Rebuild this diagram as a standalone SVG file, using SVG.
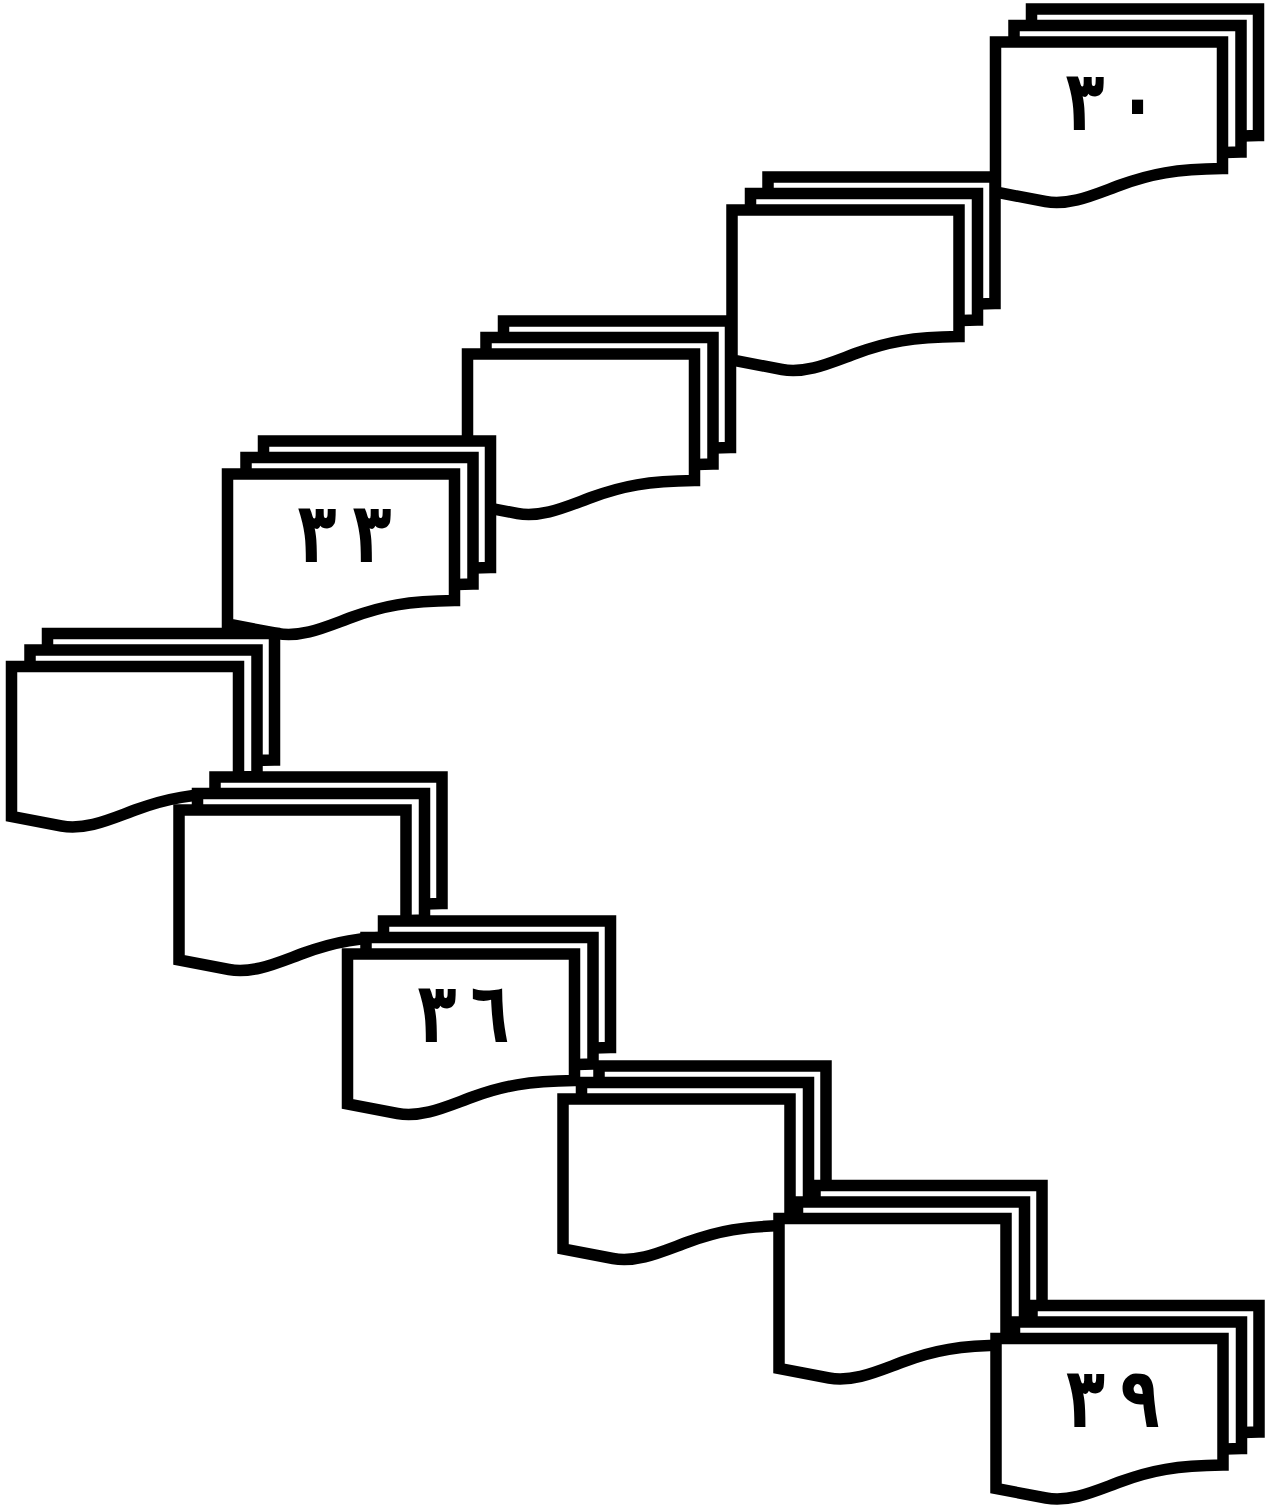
<svg xmlns="http://www.w3.org/2000/svg" xmlns:xlink="http://www.w3.org/1999/xlink" width="1269" height="1508" viewBox="0 0 1269 1508">
<style>
.doc{fill:#fff;stroke:#000;stroke-width:11.5;stroke-linejoin:miter;stroke-miterlimit:10}
.lbl{font-family:"DejaVu Sans",sans-serif;font-weight:bold;font-size:80px;fill:#000;text-anchor:middle}
</style>
<defs>
<path id="page" d="M0,0 H227 V126.5 C180,127 155,132 125,143 C100,152 75,164 50,159.5 L0,150 Z"/>
<g id="multidoc">
<use xlink:href="#page" href="#page" class="doc" transform="translate(36,-33)"/>
<use xlink:href="#page" href="#page" class="doc" transform="translate(18.5,-16.5)"/>
<use xlink:href="#page" href="#page" class="doc"/>
</g>
</defs>
<rect width="1269" height="1508" fill="#fff"/>
<g id="connectors"/>
<g id="node1" transform="translate(995.5,42)"><use xlink:href="#multidoc" href="#multidoc"/><g class="lbl"><text transform="translate(89.5,88) scale(0.8,1.05)">٣</text><text transform="translate(142,88) scale(0.8,1.05)">٠</text></g></g>
<g id="node2" transform="translate(732,210)"><use xlink:href="#multidoc" href="#multidoc"/></g>
<g id="node3" transform="translate(467.5,354)"><use xlink:href="#multidoc" href="#multidoc"/></g>
<g id="node4" transform="translate(227.5,474)"><use xlink:href="#multidoc" href="#multidoc"/><g class="lbl"><text transform="translate(89.5,88) scale(0.8,1.05)">٣</text><text transform="translate(144.5,88) scale(0.8,1.05)">٣</text></g></g>
<g id="node5" transform="translate(11.5,666.5)"><use xlink:href="#multidoc" href="#multidoc"/></g>
<g id="node6" transform="translate(179,810)"><use xlink:href="#multidoc" href="#multidoc"/></g>
<g id="node7" transform="translate(347.5,954)"><use xlink:href="#multidoc" href="#multidoc"/><g class="lbl"><text transform="translate(89.5,88) scale(0.8,1.05)">٣</text><text transform="translate(142.5,88) scale(0.8,1.05)">٦</text></g></g>
<g id="node8" transform="translate(563,1099)"><use xlink:href="#multidoc" href="#multidoc"/></g>
<g id="node9" transform="translate(779,1218.5)"><use xlink:href="#multidoc" href="#multidoc"/></g>
<g id="node10" transform="translate(996,1338.5)"><use xlink:href="#multidoc" href="#multidoc"/><g class="lbl"><text transform="translate(89.5,88) scale(0.8,1.05)">٣</text><text transform="translate(144,88) scale(0.8,1.05)">٩</text></g></g>
</svg>
